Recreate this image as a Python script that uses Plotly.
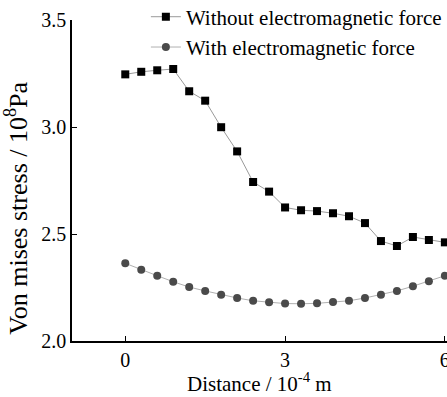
import plotly.graph_objects as go

distance = [0.0, 0.3, 0.6, 0.9, 1.2, 1.5, 1.8, 2.1, 2.4, 2.7, 3.0,
            3.3, 3.6, 3.9, 4.2, 4.5, 4.8, 5.1, 5.4, 5.7, 6.0]
without_em = [3.246, 3.258, 3.265, 3.271, 3.167, 3.123, 2.999, 2.886, 2.743, 2.698, 2.624,
              2.611, 2.607, 2.597, 2.583, 2.551, 2.467, 2.444, 2.486, 2.472, 2.461]
with_em = [2.363, 2.333, 2.305, 2.277, 2.252, 2.234, 2.216, 2.201, 2.188, 2.181, 2.175,
           2.174, 2.176, 2.182, 2.188, 2.201, 2.216, 2.234, 2.256, 2.279, 2.305]
x_ticks = [0, 3, 6]
y_ticks = [2.0, 2.5, 3.0, 3.5]

FONT = "Liberation Serif"

fig = go.Figure()
fig.add_trace(go.Scatter(
    x=distance, y=without_em, mode="lines+markers",
    name="Without electromagnetic force",
    line=dict(color="#9a9a9a", width=1),
    marker=dict(symbol="square", size=8, color="black"),
    cliponaxis=False,
))
fig.add_trace(go.Scatter(
    x=distance, y=with_em, mode="lines+markers",
    name="With electromagnetic force",
    line=dict(color="#b0b0b0", width=1),
    marker=dict(symbol="circle", size=8, color="#4a4a4a"),
    cliponaxis=False,
))

fig.update_layout(
    width=447, height=397,
    margin=dict(l=72, r=0, t=20, b=56, autoexpand=False),
    paper_bgcolor="white", plot_bgcolor="white",
    font=dict(family=FONT, color="black", size=19),
    showlegend=True,
    legend=dict(x=0.197, y=1.073, xanchor="left", yanchor="top",
                bgcolor="rgba(0,0,0,0)", font=dict(family=FONT, size=21, color="black"),
                tracegroupgap=0, itemwidth=30),
    xaxis=dict(range=[-1, 6.04], tickvals=x_ticks, ticks="inside", ticklen=5,
               tickcolor="black", showline=True, linecolor="black", linewidth=1.5,
               showgrid=False, zeroline=False, automargin=False,
               ticklabeloverflow="allow",
               tickfont=dict(family=FONT, size=20, color="black")),
    yaxis=dict(range=[2.0, 3.5], tickvals=y_ticks, tickformat=".1f", ticks="inside", ticklen=5,
               tickcolor="black", showline=True, linecolor="black", linewidth=1.5,
               showgrid=False, zeroline=False, automargin=False,
               ticklabeloverflow="allow",
               tickfont=dict(family=FONT, size=20, color="black")),
    annotations=[
        dict(text="Distance / 10<sup>-4</sup> m", xref="paper", yref="paper",
             x=0.5, y=-0.13, xanchor="center", yanchor="middle", showarrow=False,
             font=dict(family=FONT, size=21, color="black")),
        dict(text="Von mises stress / 10<sup>8</sup>Pa", xref="paper", yref="paper",
             x=-0.147, y=0.415, xanchor="center", yanchor="middle", showarrow=False,
             textangle=-90, font=dict(family=FONT, size=26, color="black")),
    ],
)

fig.write_html(
    "out.html",
    config={"displayModeBar": False},
    post_script="document.body.style.margin='0';document.body.style.overflow='hidden';",
)
